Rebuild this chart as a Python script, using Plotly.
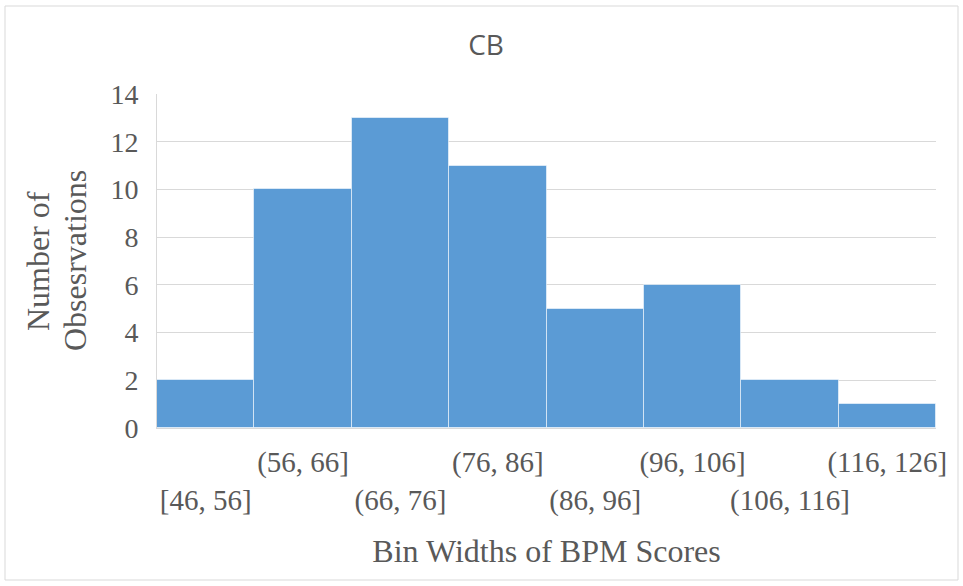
import plotly.graph_objects as go

bins = ["[46, 56]", "(56, 66]", "(66, 76]", "(76, 86]", "(86, 96]",
        "(96, 106]", "(106, 116]", "(116, 126]"]
counts = [2, 10, 13, 11, 5, 6, 2, 1]
y_ticks = [0, 2, 4, 6, 8, 10, 12, 14]
y_title_lines = ["Number of", "Obsesrvations"]

# staggered tick labels (Excel style): even-index labels on the second row
tick_text = [("<br>" + b) if i % 2 == 0 else b for i, b in enumerate(bins)]

grey = "#595959"
serif = "Liberation Serif, Times New Roman, serif"

fig = go.Figure()
fig.add_trace(go.Bar(
    x=bins, y=counts,
    marker=dict(color="#5B9BD5", line=dict(color="rgba(255,255,255,0.55)", width=1)),
    showlegend=False,
))

L, R, T, B = 157, 27, 94, 158
W, H = 963, 586
pw, ph = W - L - R, H - T - B

fig.update_layout(
    width=W, height=H,
    margin=dict(l=L, r=R, t=T, b=B, autoexpand=False),
    paper_bgcolor="white", plot_bgcolor="white",
    bargap=0,
    title=dict(text="CB", x=(486 - L) / pw, xref="paper", xanchor="center",
               y=1 - 45 / H, yanchor="middle",
               font=dict(family="Open Sans, Noto Sans, sans-serif", size=28, color=grey)),
    xaxis=dict(
        tickmode="array", tickvals=bins, ticktext=tick_text, tickangle=0,
        tickfont=dict(family=serif, size=29, color=grey),
        showgrid=False, showline=True, linecolor="#d9d9d9", linewidth=1,
        ticks="", ticklabelstandoff=8, automargin=False,
        title=dict(text="Bin Widths of BPM Scores", standoff=24,
                   font=dict(family=serif, size=32, color=grey)),
    ),
    yaxis=dict(
        range=[0, 14], tickvals=y_ticks,
        tickfont=dict(family=serif, size=28, color=grey),
        showgrid=True, gridcolor="#d9d9d9", gridwidth=1,
        showline=True, linecolor="#d9d9d9", linewidth=1,
        zeroline=False, ticks="", ticklabelstandoff=12, automargin=False,
    ),
)

# y-axis title as two rotated lines (tighter line spacing, as in the original)
for text, px in zip(y_title_lines, [38, 75]):
    fig.add_annotation(text=text, textangle=-90, showarrow=False,
                       xref="paper", yref="paper", x=(px - L) / pw, y=0.5,
                       xanchor="center", yanchor="middle",
                       font=dict(family=serif, size=32, color=grey))

# outer chart border
fig.add_shape(type="rect", xref="paper", yref="paper",
              x0=(5 - L) / pw, x1=(958 - L) / pw,
              y0=(H - B - 580) / ph, y1=(H - B - 6) / ph,
              line=dict(color="#d9d9d9", width=1), fillcolor="rgba(0,0,0,0)",
              layer="below")

fig.write_html("out.html")
